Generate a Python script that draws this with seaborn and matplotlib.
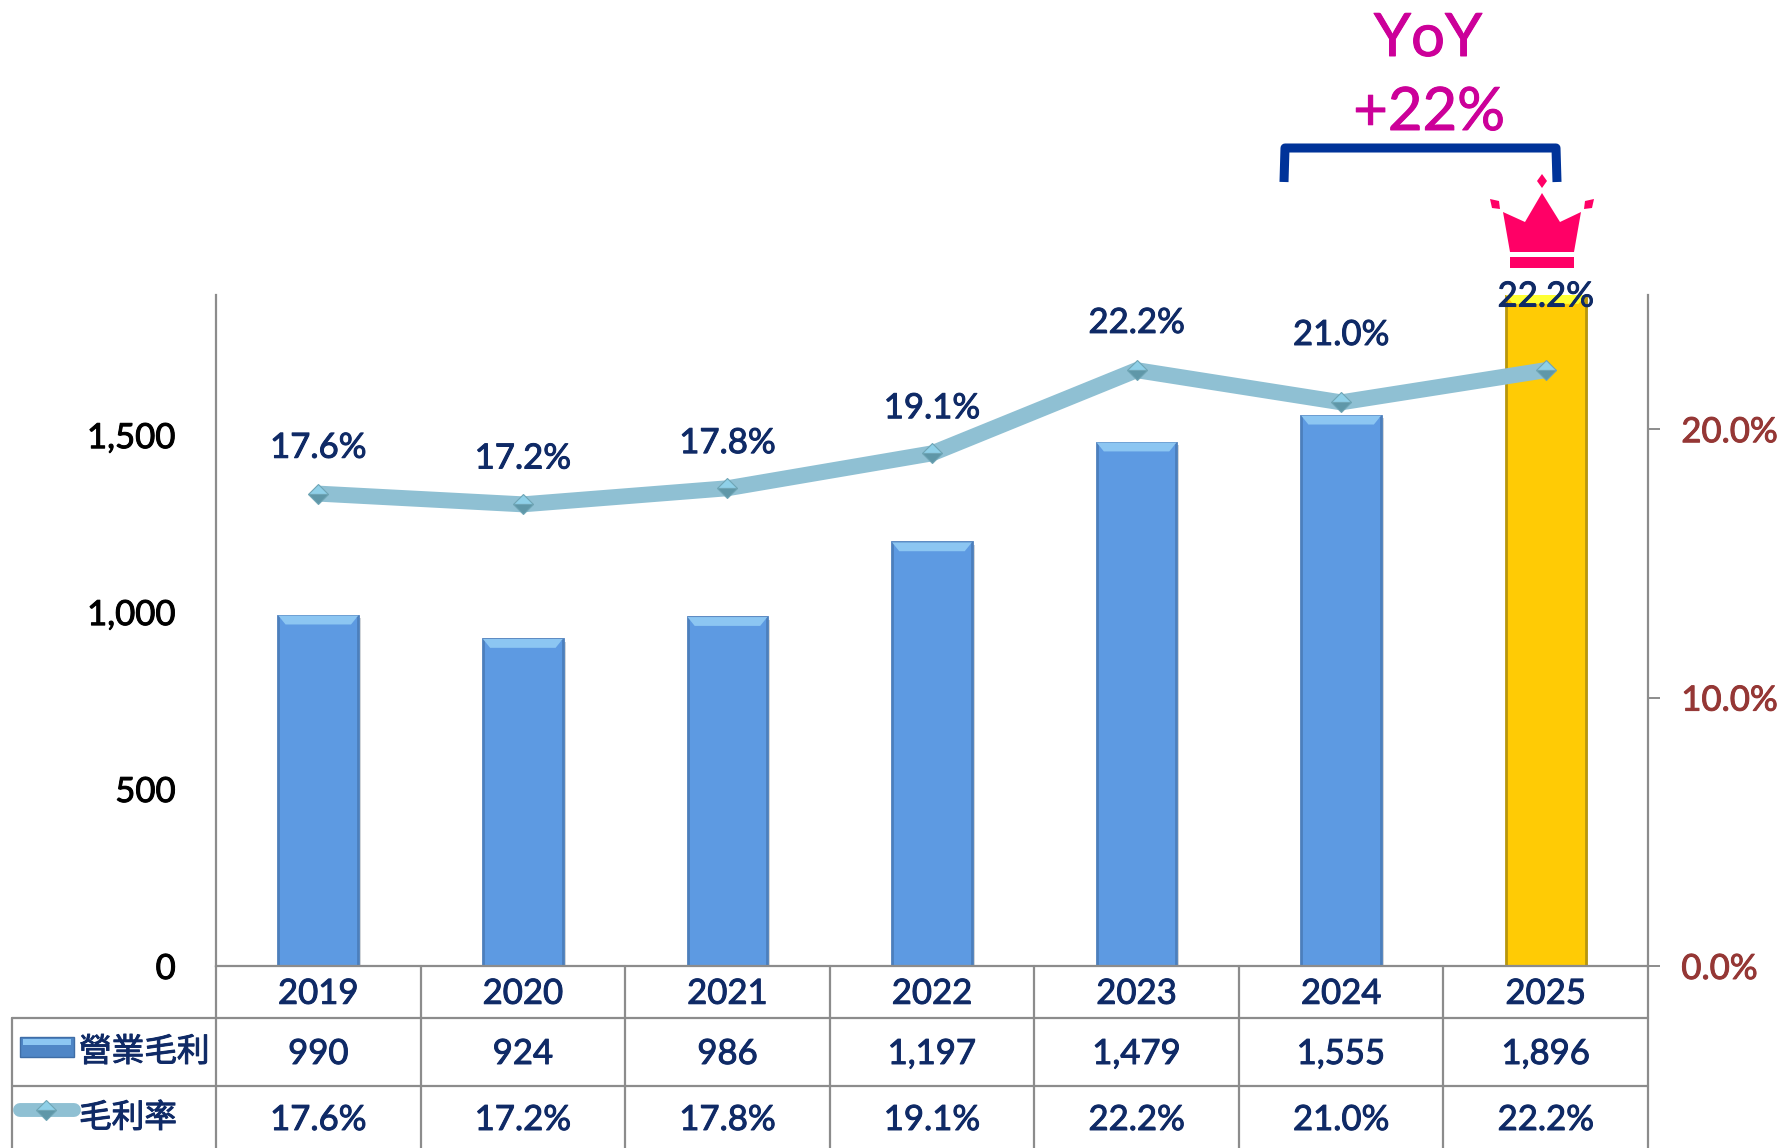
"""Gross profit bars with margin line and a data table under the axis."""

import matplotlib
matplotlib.use("Agg")
import matplotlib.pyplot as plt
import matplotlib.patheffects as pe
from matplotlib.patches import Polygon, Rectangle
from matplotlib.path import Path
from matplotlib.patches import PathPatch
from matplotlib.text import Text
from matplotlib.transforms import blended_transform_factory
import seaborn as sns

YEARS = ["2019", "2020", "2021", "2022", "2023", "2024", "2025"]
PROFIT = [990, 924, 986, 1197, 1479, 1555, 1896]
MARGIN = [17.6, 17.2, 17.8, 19.1, 22.2, 21.0, 22.2]
PROFIT_TICKS = [0, 500, 1000, 1500]
MARGIN_TICKS = [0, 10, 20]
ROW_NAMES = ["營業毛利", "毛利率"]
LABEL_OFFSETS = [33, 33, 32.5, 32.5, 34, 48.5, 53]  # points above the marker

NAVY = "#0F2A66"
RED = "#953735"
GREY = "#8C8C8C"
BLUE = "#5D9AE2"
GOLD = "#FFCB05"
TEAL = "#8FC0D3"
MAGENTA = "#CC0099"
CROWN = "#FF0066"

sns.set_theme(style="white")
plt.rcParams["font.family"] = ["Lato", "Noto Sans CJK TC", "DejaVu Sans"]

fig = plt.figure(figsize=(17.82, 11.48), dpi=100)

# overlay in pixels for the table and the decorations
over = fig.add_axes([0, 0, 1, 1])
over.set_xlim(0, 1782)
over.set_ylim(1148, 0)
over.axis("off")

ax = fig.add_axes([216 / 1782, 1 - 966 / 1148, 1432 / 1782, 671 / 1148])
ax.patch.set_alpha(0)
colors = [BLUE] * 6 + [GOLD]
sns.barplot(x=YEARS, y=PROFIT, hue=YEARS, palette=colors, legend=False,
            width=0.39, saturation=1, ax=ax, zorder=2)
ax.set_xlim(-0.5, 6.5)
ax.set_ylim(0, 1896)
ax.set_yticks(PROFIT_TICKS, [f"{v:,}" for v in PROFIT_TICKS])
ax.tick_params(axis="y", length=0, pad=29, labelsize=25, labelcolor="black")
ax.tick_params(axis="x", length=0, pad=8.5, labelsize=25, labelcolor=NAVY)
ax.spines[["top", "right"]].set_visible(False)
ax.spines[["left", "bottom"]].set_color(GREY)
ax.spines[["left", "bottom"]].set_linewidth(1.6)

# bevel look on the bars
for bar, value in zip(ax.patches, PROFIT):
    x0, w = bar.get_x(), bar.get_width()
    gold = value == max(PROFIT)
    bar.set_edgecolor("#B8960C" if gold else "#4C7FBC")
    bar.set_linewidth(2)
    bar.set_path_effects([pe.SimplePatchShadow(offset=(2, -2), alpha=0.2), pe.Normal()])
    ax.add_patch(Polygon(
        [(x0, value), (x0 + w, value), (x0 + w - 0.035, value - 25), (x0 + 0.035, value - 25)],
        closed=True, facecolor="#FFFF33" if gold else "#8CC6F2",
        edgecolor="none", zorder=3))

ax2 = ax.twinx()
ax2.patch.set_alpha(0)
sns.lineplot(x=YEARS, y=MARGIN, color=TEAL, linewidth=11.5, ax=ax2,
             marker="D", markersize=10, fillstyle="top", markerfacecolor="#8FD0E8",
             markerfacecoloralt="#5F97A8", markeredgecolor="#6FA5B5",
             markeredgewidth=0.8, solid_capstyle="butt", zorder=4)
ax2.set_xlim(-0.5, 6.5)
ax2.set_ylim(0, 25)
ax2.set_yticks(MARGIN_TICKS, [f"{v:.1f}%" for v in MARGIN_TICKS])
ax2.tick_params(axis="y", length=8.5, width=1.4, color=GREY, pad=15.5,
                labelsize=25, labelcolor=RED)
ax2.spines[["top", "left", "bottom"]].set_visible(False)
ax2.spines["right"].set_color(GREY)
ax2.spines["right"].set_linewidth(1.6)
ax2.grid(False)
ax.grid(False)

for i, (m, off) in enumerate(zip(MARGIN, LABEL_OFFSETS)):
    ax2.annotate(f"{m:.1f}%", (i, m), xytext=(0, off), textcoords="offset points",
                 ha="center", va="center", fontsize=25, color=NAVY, zorder=6)

# data table below the axis
tr = blended_transform_factory(ax.transData, over.transData)
ROW_Y = [966, 1018, 1086, 1148]
for y in ROW_Y[1:3]:
    over.plot([12, 1648], [y, y], color=GREY, lw=1.6)
over.plot([12, 12], [1018, 1148], color=GREY, lw=1.6)
for i in range(8):
    over.plot([i - 0.5, i - 0.5], [966, 1148], color=GREY, lw=1.6, transform=tr)
for i, (p, m) in enumerate(zip(PROFIT, MARGIN)):
    over.text(i, 1054, f"{p:,}", ha="center", va="center", fontsize=25, color=NAVY, transform=tr)
    over.text(i, 1120, f"{m:.1f}%", ha="center", va="center", fontsize=25, color=NAVY, transform=tr)

# row legend
over.add_patch(Rectangle((20, 1037), 54, 20, facecolor="#4F86C6", edgecolor="#3F6DA6", lw=1))
over.add_patch(Rectangle((23, 1039), 48, 6, facecolor="#8CC6F2", edgecolor="none"))
over.text(79, 1052, ROW_NAMES[0], ha="left", va="center", fontsize=23.5, color=NAVY)
over.plot([20, 74], [1110, 1110], color=TEAL, lw=10, solid_capstyle="round")
over.plot([46], [1110], marker="D", markersize=10, fillstyle="top", markerfacecolor="#8FD0E8",
          markerfacecoloralt="#5F97A8", markeredgecolor="#6FA5B5", markeredgewidth=0.8)
over.text(79, 1118, ROW_NAMES[1], ha="left", va="center", fontsize=23.5, color=NAVY)

# YoY callout
over.text(1428, 39, "YoY", ha="center", va="center", fontsize=43, color=MAGENTA)
over.text(1429, 113, "+22%", ha="center", va="center", fontsize=43, color=MAGENTA)
bracket = Path([(1284, 182), (1285, 148), (1556, 148), (1557, 182)],
               [Path.MOVETO, Path.LINETO, Path.LINETO, Path.LINETO])
over.add_patch(PathPatch(bracket, fill=False, edgecolor="#003399", lw=6.5,
                         capstyle="butt", joinstyle="round"))

# crown
over.add_patch(Polygon([(1510, 252), (1574, 252), (1581, 212), (1560, 222), (1542, 193),
                        (1525, 222), (1503, 212)], closed=True, facecolor=CROWN, edgecolor="none"))
over.add_patch(Rectangle((1510, 257), 64, 11, facecolor=CROWN, edgecolor="none"))
over.add_patch(Polygon([(1542, 174), (1547, 181), (1542, 188), (1537, 181)], closed=True,
                       facecolor=CROWN, edgecolor="none"))
over.add_patch(Polygon([(1490, 199), (1499, 201), (1500, 209), (1492, 208)], closed=True,
                       facecolor=CROWN, edgecolor="none"))
over.add_patch(Polygon([(1594, 199), (1585, 201), (1584, 209), (1592, 208)], closed=True,
                       facecolor=CROWN, edgecolor="none"))

# the reference text is a bit heavier than Lato regular
for t in fig.findobj(Text):
    if t.get_text():
        t.set_path_effects([pe.withStroke(linewidth=0.7, foreground=t.get_color())])

fig.savefig("out.png", dpi=100)
